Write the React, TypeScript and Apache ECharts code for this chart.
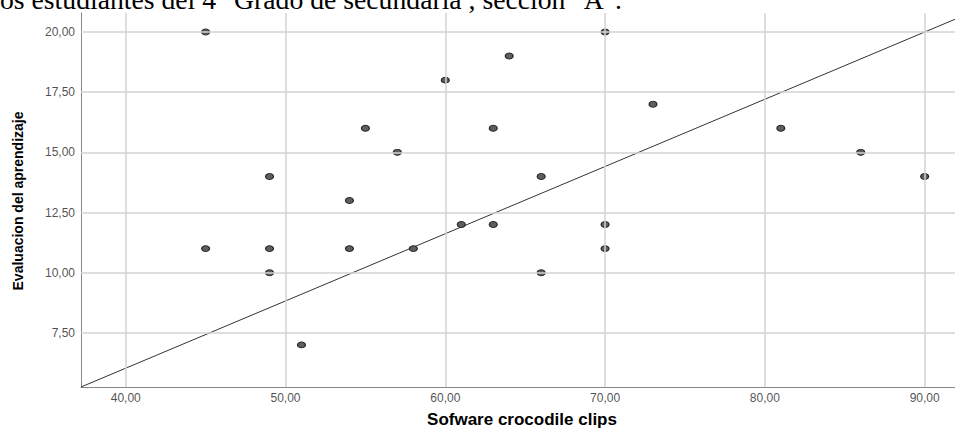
import React, { useEffect, useRef } from "react";
import * as echarts from "echarts";

const xValues = [45, 45, 49, 49, 49, 51, 54, 54, 55, 57, 58, 60, 61, 63, 63, 64, 66, 66, 70, 70, 70, 73, 81, 86, 90];
const yValues = [20, 11, 14, 11, 10, 7, 13, 11, 16, 15, 11, 18, 12, 16, 12, 19, 14, 10, 20, 12, 11, 17, 16, 15, 14];
const fitLine = [
  [37.2, 5.25],
  [91.9, 20.53],
];
const xTicks = [40, 50, 60, 70, 80, 90];
const yTicks = [7.5, 10, 12.5, 15, 17.5, 20];
const headerText = 'os estudiantes del 4° Grado de secundaria , sección "A".';
const xTitle = "Sofware crocodile clips";
const yTitle = "Evaluacion del aprendizaje";

const fmt = (v: number) => v.toFixed(2).replace(".", ",");

export default function App() {
  const ref = useRef<HTMLDivElement>(null);
  useEffect(() => {
    if (!ref.current) return;
    const chart = echarts.init(ref.current, null, { renderer: "svg" });
    const points = xValues.map((x, i) => [x, yValues[i]]);
    const xMin = 37.2;
    const xMax = 91.9;
    const yMin = 5.25;
    const yMax = 20.79;
    const labelFont = {
      color: "#1e1e1e",
      fontSize: 12,
      fontFamily: '"Liberation Sans", Arial, sans-serif',
    };
    chart.setOption({
      animation: false,
      backgroundColor: "#ffffff",
      grid: { left: 81, right: 0, top: 13, bottom: 42, containLabel: false },
      graphic: [
        {
          type: "text",
          left: 0,
          top: -15,
          style: {
            text: headerText,
            font: '27.7px "Liberation Serif", "Times New Roman", serif',
            fill: "#000000",
          },
          z: 100,
        },
        {
          type: "text",
          x: 18,
          y: 201,
          rotation: Math.PI / 2,
          style: {
            text: yTitle,
            font: 'bold 14px "Liberation Sans", Arial, sans-serif',
            fill: "#000000",
            align: "center",
            verticalAlign: "middle",
          },
        },
        {
          type: "text",
          x: 522,
          y: 419,
          style: {
            text: xTitle,
            font: 'bold 17px "Liberation Sans", Arial, sans-serif',
            fill: "#000000",
            align: "center",
            verticalAlign: "middle",
          },
        },
      ],
      xAxis: {
        type: "value",
        min: xMin,
        max: xMax,
        axisLine: { show: true, lineStyle: { color: "#888888", width: 1 } },
        axisTick: { show: false },
        splitLine: { show: false },
        axisLabel: { show: false },
      },
      yAxis: {
        type: "value",
        min: yMin,
        max: yMax,
        axisLine: { show: true, lineStyle: { color: "#888888", width: 1 } },
        axisTick: { show: false },
        splitLine: { show: false },
        axisLabel: { show: false },
      },
      series: [
        {
          type: "line",
          data: [],
          markLine: {
            silent: true,
            symbol: "none",
            label: { show: false },
            lineStyle: { color: "#d3d3d3", width: 1.5, type: "solid" },
            data: [
              ...xTicks.map((v) => ({ xAxis: v })),
              ...yTicks.map((v) => ({ yAxis: v })),
            ],
          },
        },
        {
          type: "line",
          data: fitLine,
          showSymbol: false,
          symbol: "none",
          lineStyle: { color: "#333333", width: 1 },
          z: 3,
        },
        {
          type: "scatter",
          data: points,
          symbol: "circle",
          symbolSize: [8, 6],
          itemStyle: { color: "#5e5e5e", borderColor: "#222222", borderWidth: 1, opacity: 1 },
          z: 4,
        },
        {
          type: "scatter",
          data: xTicks.map((v) => [v, yMin]),
          symbolSize: 0,
          silent: true,
          label: {
            show: true,
            position: "bottom",
            distance: 5,
            formatter: (p: any) => fmt(p.value[0]),
            ...labelFont,
          },
        },
        {
          type: "scatter",
          data: yTicks.map((v) => [xMin, v]),
          symbolSize: 0,
          silent: true,
          label: {
            show: true,
            position: "left",
            distance: 6,
            formatter: (p: any) => fmt(p.value[1]),
            ...labelFont,
          },
        },
      ],
    });
    return () => chart.dispose();
  }, []);
  return <div ref={ref} style={{ width: 955, height: 429, position: "absolute", left: 0, top: 0 }} />;
}
